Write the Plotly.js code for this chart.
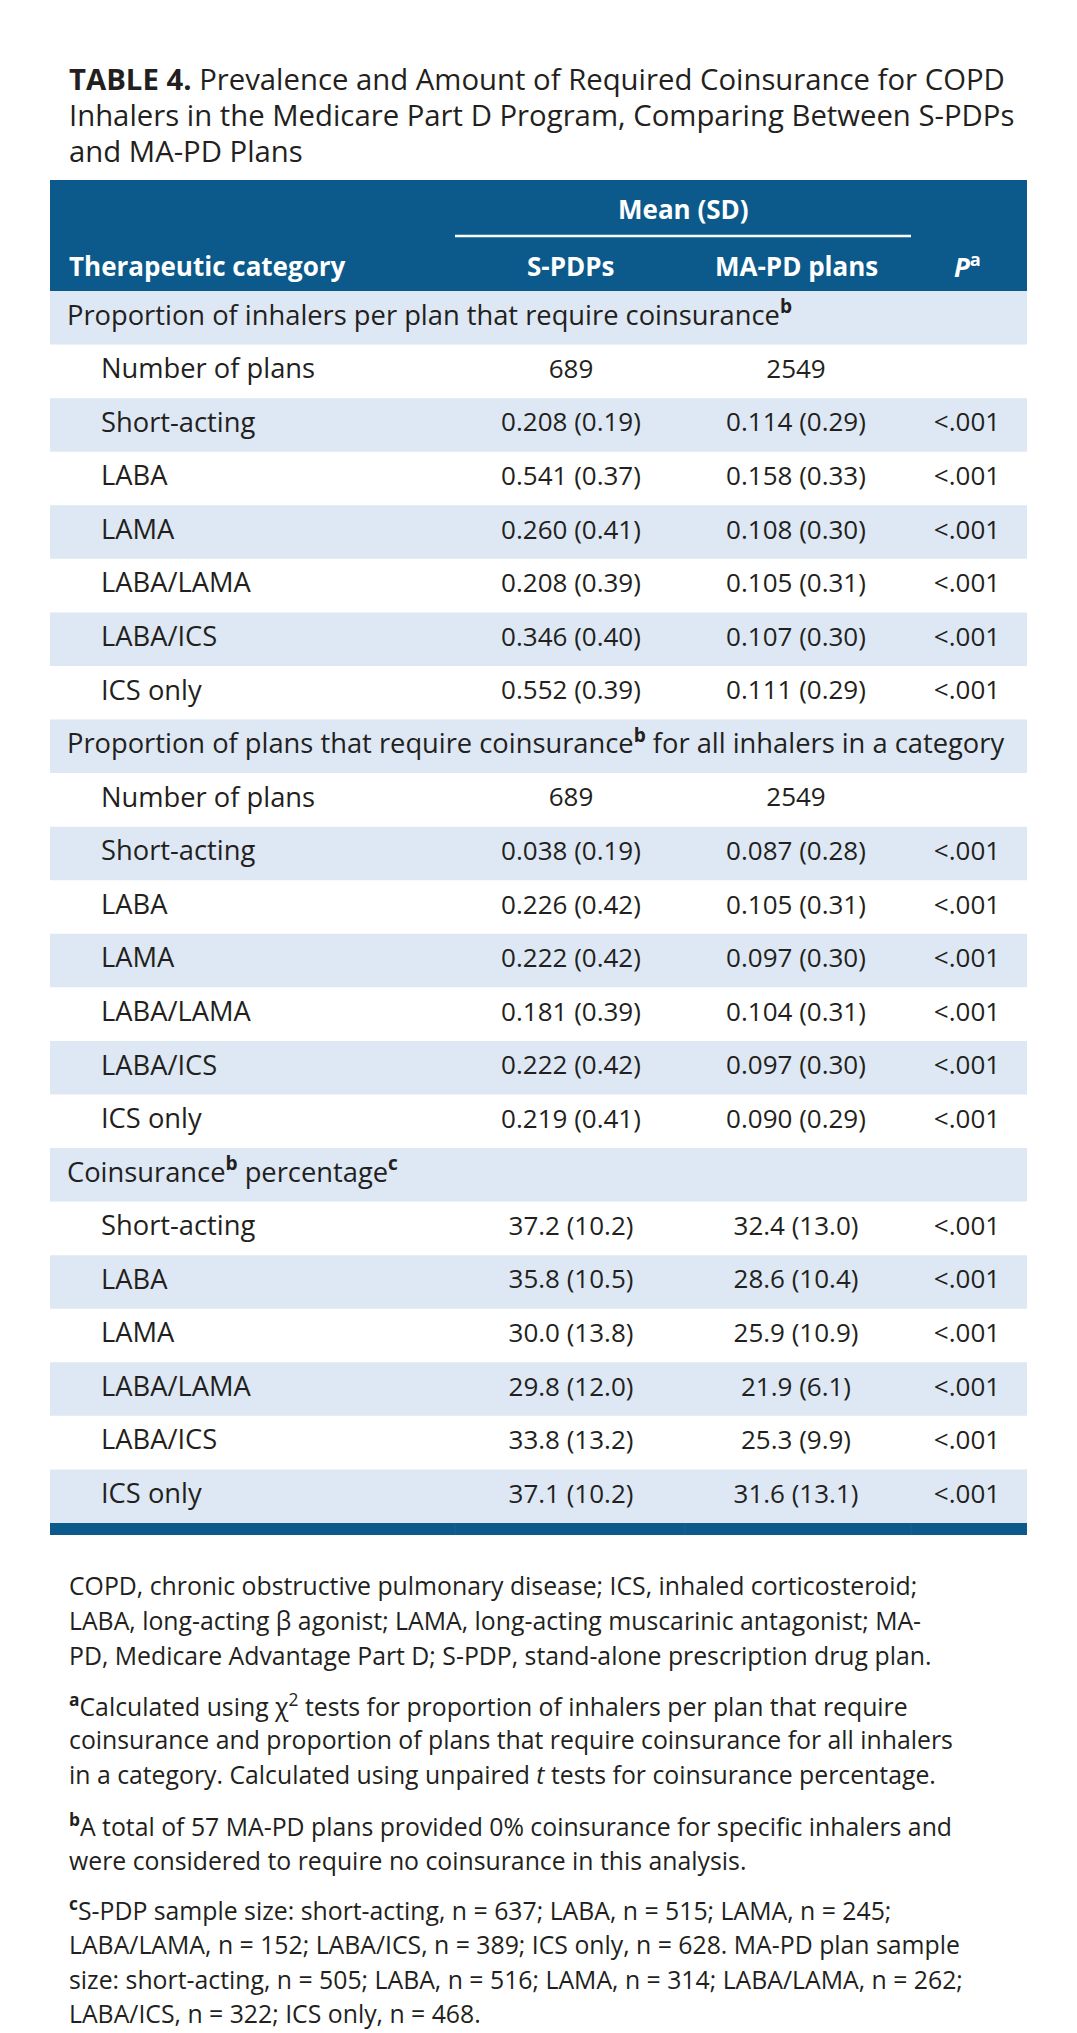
<!DOCTYPE html>
<html>
<head>
<meta charset="utf-8">
<script src="https://cdn.plot.ly/plotly-3.0.1.min.js"></script>
<style>html,body{margin:0;padding:0;background:#fff;}#chart{width:1077px;height:2033px;}</style>
</head>
<body>
<div id="chart"></div>
<script>
// ---- data ----
const titleText = ["<b>TABLE 4.</b> Prevalence and Amount of Required Coinsurance for COPD",
  "Inhalers in the Medicare Part D Program, Comparing Between S-PDPs",
  "and MA-PD Plans"];
const columnHeaders = ["Therapeutic category", "S-PDPs", "MA-PD plans", "<i>P</i><sup>a</sup>"];
const groupHeader = "Mean (SD)";
const sectionTitles = [
  "Proportion of inhalers per plan that require coinsurance<sup><b>b</b></sup>",
  "Proportion of plans that require coinsurance<sup><b>b</b></sup> for all inhalers in a category",
  "Coinsurance<sup><b>b</b></sup> percentage<sup><b>c</b></sup>"
];
const drugCategories = ["Short-acting", "LABA", "LAMA", "LABA/LAMA", "LABA/ICS", "ICS only"];
const planCountLabel = "Number of plans";
const planCountSPDP = 689;
const planCountMAPD = 2549;
const inhalerPropSPDPMean = [0.208, 0.541, 0.260, 0.208, 0.346, 0.552];
const inhalerPropSPDPSD   = [0.19, 0.37, 0.41, 0.39, 0.40, 0.39];
const inhalerPropMAPDMean = [0.114, 0.158, 0.108, 0.105, 0.107, 0.111];
const inhalerPropMAPDSD   = [0.29, 0.33, 0.30, 0.31, 0.30, 0.29];
const planPropSPDPMean = [0.038, 0.226, 0.222, 0.181, 0.222, 0.219];
const planPropSPDPSD   = [0.19, 0.42, 0.42, 0.39, 0.42, 0.41];
const planPropMAPDMean = [0.087, 0.105, 0.097, 0.104, 0.097, 0.090];
const planPropMAPDSD   = [0.28, 0.31, 0.30, 0.31, 0.30, 0.29];
const coinsPctSPDPMean = [37.2, 35.8, 30.0, 29.8, 33.8, 37.1];
const coinsPctSPDPSD   = [10.2, 10.5, 13.8, 12.0, 13.2, 10.2];
const coinsPctMAPDMean = [32.4, 28.6, 25.9, 21.9, 25.3, 31.6];
const coinsPctMAPDSD   = [13.0, 10.4, 10.9, 6.1, 9.9, 13.1];
const pValueText = "<.001";
const footnotes = [
  ["COPD, chronic obstructive pulmonary disease; ICS, inhaled corticosteroid;",
   "LABA, long-acting β agonist; LAMA, long-acting muscarinic antagonist; MA-",
   "PD, Medicare Advantage Part D; S-PDP, stand-alone prescription drug plan."],
  ["<sup><b>a</b></sup>Calculated using χ<sup>2</sup> tests for proportion of inhalers per plan that require",
   "coinsurance and proportion of plans that require coinsurance for all inhalers",
   "in a category. Calculated using unpaired <i>t</i> tests for coinsurance percentage."],
  ["<sup><b>b</b></sup>A total of 57 MA-PD plans provided 0% coinsurance for specific inhalers and",
   "were considered to require no coinsurance in this analysis."],
  ["<sup><b>c</b></sup>S-PDP sample size: short-acting, n = 637; LABA, n = 515; LAMA, n = 245;",
   "LABA/LAMA, n = 152; LABA/ICS, n = 389; ICS only, n = 628. MA-PD plan sample",
   "size: short-acting, n = 505; LABA, n = 516; LAMA, n = 314; LABA/LAMA, n = 262;",
   "LABA/ICS, n = 322; ICS only, n = 468."]
];

// ---- build rows ----
const fmt = (m, s, d, ds) => m.toFixed(d) + " (" + s.toFixed(ds) + ")";
const sections = [
  {title: sectionTitles[0], counts: true, a: inhalerPropSPDPMean, as: inhalerPropSPDPSD, b: inhalerPropMAPDMean, bs: inhalerPropMAPDSD, d: 3, ds: 2},
  {title: sectionTitles[1], counts: true, a: planPropSPDPMean, as: planPropSPDPSD, b: planPropMAPDMean, bs: planPropMAPDSD, d: 3, ds: 2},
  {title: sectionTitles[2], counts: false, a: coinsPctSPDPMean, as: coinsPctSPDPSD, b: coinsPctMAPDMean, bs: coinsPctMAPDSD, d: 1, ds: 1}
];
const rows = [];
sections.forEach(s => {
  rows.push({label: s.title, section: true, c1: "", c2: "", c3: ""});
  if (s.counts) rows.push({label: planCountLabel, section: false, c1: String(planCountSPDP), c2: String(planCountMAPD), c3: ""});
  drugCategories.forEach((cat, i) => {
    rows.push({label: cat, section: false, c1: fmt(s.a[i], s.as[i], s.d, s.ds), c2: fmt(s.b[i], s.bs[i], s.d, s.ds), c3: pValueText});
  });
});

// ---- geometry ----
const W = 1077, H = 2033;
const tableL = 50, tableR = 1027;
const headTop = 180, headBot = 291;
const rowH = (1523 - headBot) / rows.length;
const xSec = 67, xInd = 101, xC1 = 571, xC2 = 796, xC3 = 967;
const dark = "#0b5a8b", light = "#dde8f4", ink = "#231f20";
const FONT = "Open Sans";
const labelSize = 27.3, valueSize = 26, headSize = 26, titleSize = 29.3, footSize = 24.8;

const shapes = [];
shapes.push({type: "rect", xref: "x", yref: "y", x0: tableL, x1: tableR, y0: headTop, y1: headBot, fillcolor: dark, line: {width: 0}, layer: "below"});
shapes.push({type: "line", xref: "x", yref: "y", x0: 455, x1: 911, y0: 236, y1: 236, line: {color: "#ffffff", width: 2.5}});
rows.forEach((r, i) => {
  if (i % 2 === 0) {
    shapes.push({type: "rect", xref: "x", yref: "y", x0: tableL, x1: tableR, y0: headBot + i * rowH, y1: headBot + (i + 1) * rowH, fillcolor: light, line: {width: 0}, layer: "below"});
  }
});
shapes.push({type: "rect", xref: "x", yref: "y", x0: tableL, x1: tableR, y0: 1523, y1: 1535, fillcolor: dark, line: {width: 0}, layer: "below"});
[455, 685, 911].forEach(x => shapes.push({type: "line", xref: "x", yref: "y", x0: x, x1: x, y0: 1523, y1: 1535, line: {color: "#16628f", width: 1}}));

const rowY = rows.map((r, i) => headBot + (i + 0.5) * rowH);
function colTrace(key, xPos, pos, size) {
  const idx = rows.map((r, i) => i).filter(i => rows[i][key] !== "");
  return {type: "scatter", mode: "text",
    x: idx.map(i => typeof xPos === "function" ? xPos(rows[i]) : xPos),
    y: idx.map(i => rowY[i]), text: idx.map(i => rows[i][key]),
    textposition: pos, textfont: {family: FONT, size: size, color: ink}, hoverinfo: "skip", showlegend: false};
}
const traces = [
  colTrace("label", r => r.section ? xSec : xInd, "middle right", labelSize),
  colTrace("c1", xC1, "middle center", valueSize),
  colTrace("c2", xC2, "middle center", valueSize),
  colTrace("c3", xC3, "middle center", valueSize)
];

const annotations = [];
const titleY = [79, 115, 151];
titleText.forEach((t, i) => annotations.push({xref: "x", yref: "y", x: xSec, y: titleY[i], text: t, showarrow: false, xanchor: "left", yanchor: "middle", font: {family: FONT, size: titleSize, color: ink}}));
annotations.push({xref: "x", yref: "y", x: 683, y: 209, text: "<b>" + groupHeader + "</b>", showarrow: false, xanchor: "center", yanchor: "middle", font: {family: FONT, size: headSize, color: "#ffffff"}});
const headX = [xSec, xC1, xC2, xC3];
columnHeaders.forEach((h, i) => annotations.push({xref: "x", yref: "y", x: headX[i], y: 266, text: "<b>" + h + "</b>", showarrow: false, xanchor: i === 0 ? "left" : "center", yanchor: "middle", font: {family: FONT, size: headSize, color: "#ffffff"}}));
const footY = [[1585, 1620, 1655], [1705, 1739, 1774], [1825, 1860], [1909, 1944, 1979, 2013]];
footnotes.forEach((para, p) => para.forEach((line, j) => annotations.push({xref: "x", yref: "y", x: xSec, y: footY[p][j], text: line, showarrow: false, xanchor: "left", yanchor: "middle", font: {family: FONT, size: footSize, color: ink}})));

const layout = {
  width: W, height: H, margin: {l: 0, r: 0, t: 0, b: 0},
  paper_bgcolor: "#ffffff", plot_bgcolor: "#ffffff",
  xaxis: {range: [0, W], visible: false, fixedrange: true},
  yaxis: {range: [H, 0], visible: false, fixedrange: true},
  shapes: shapes, annotations: annotations, showlegend: false
};
Plotly.newPlot("chart", traces, layout, {staticPlot: true, displayModeBar: false});
</script>
</body>
</html>
